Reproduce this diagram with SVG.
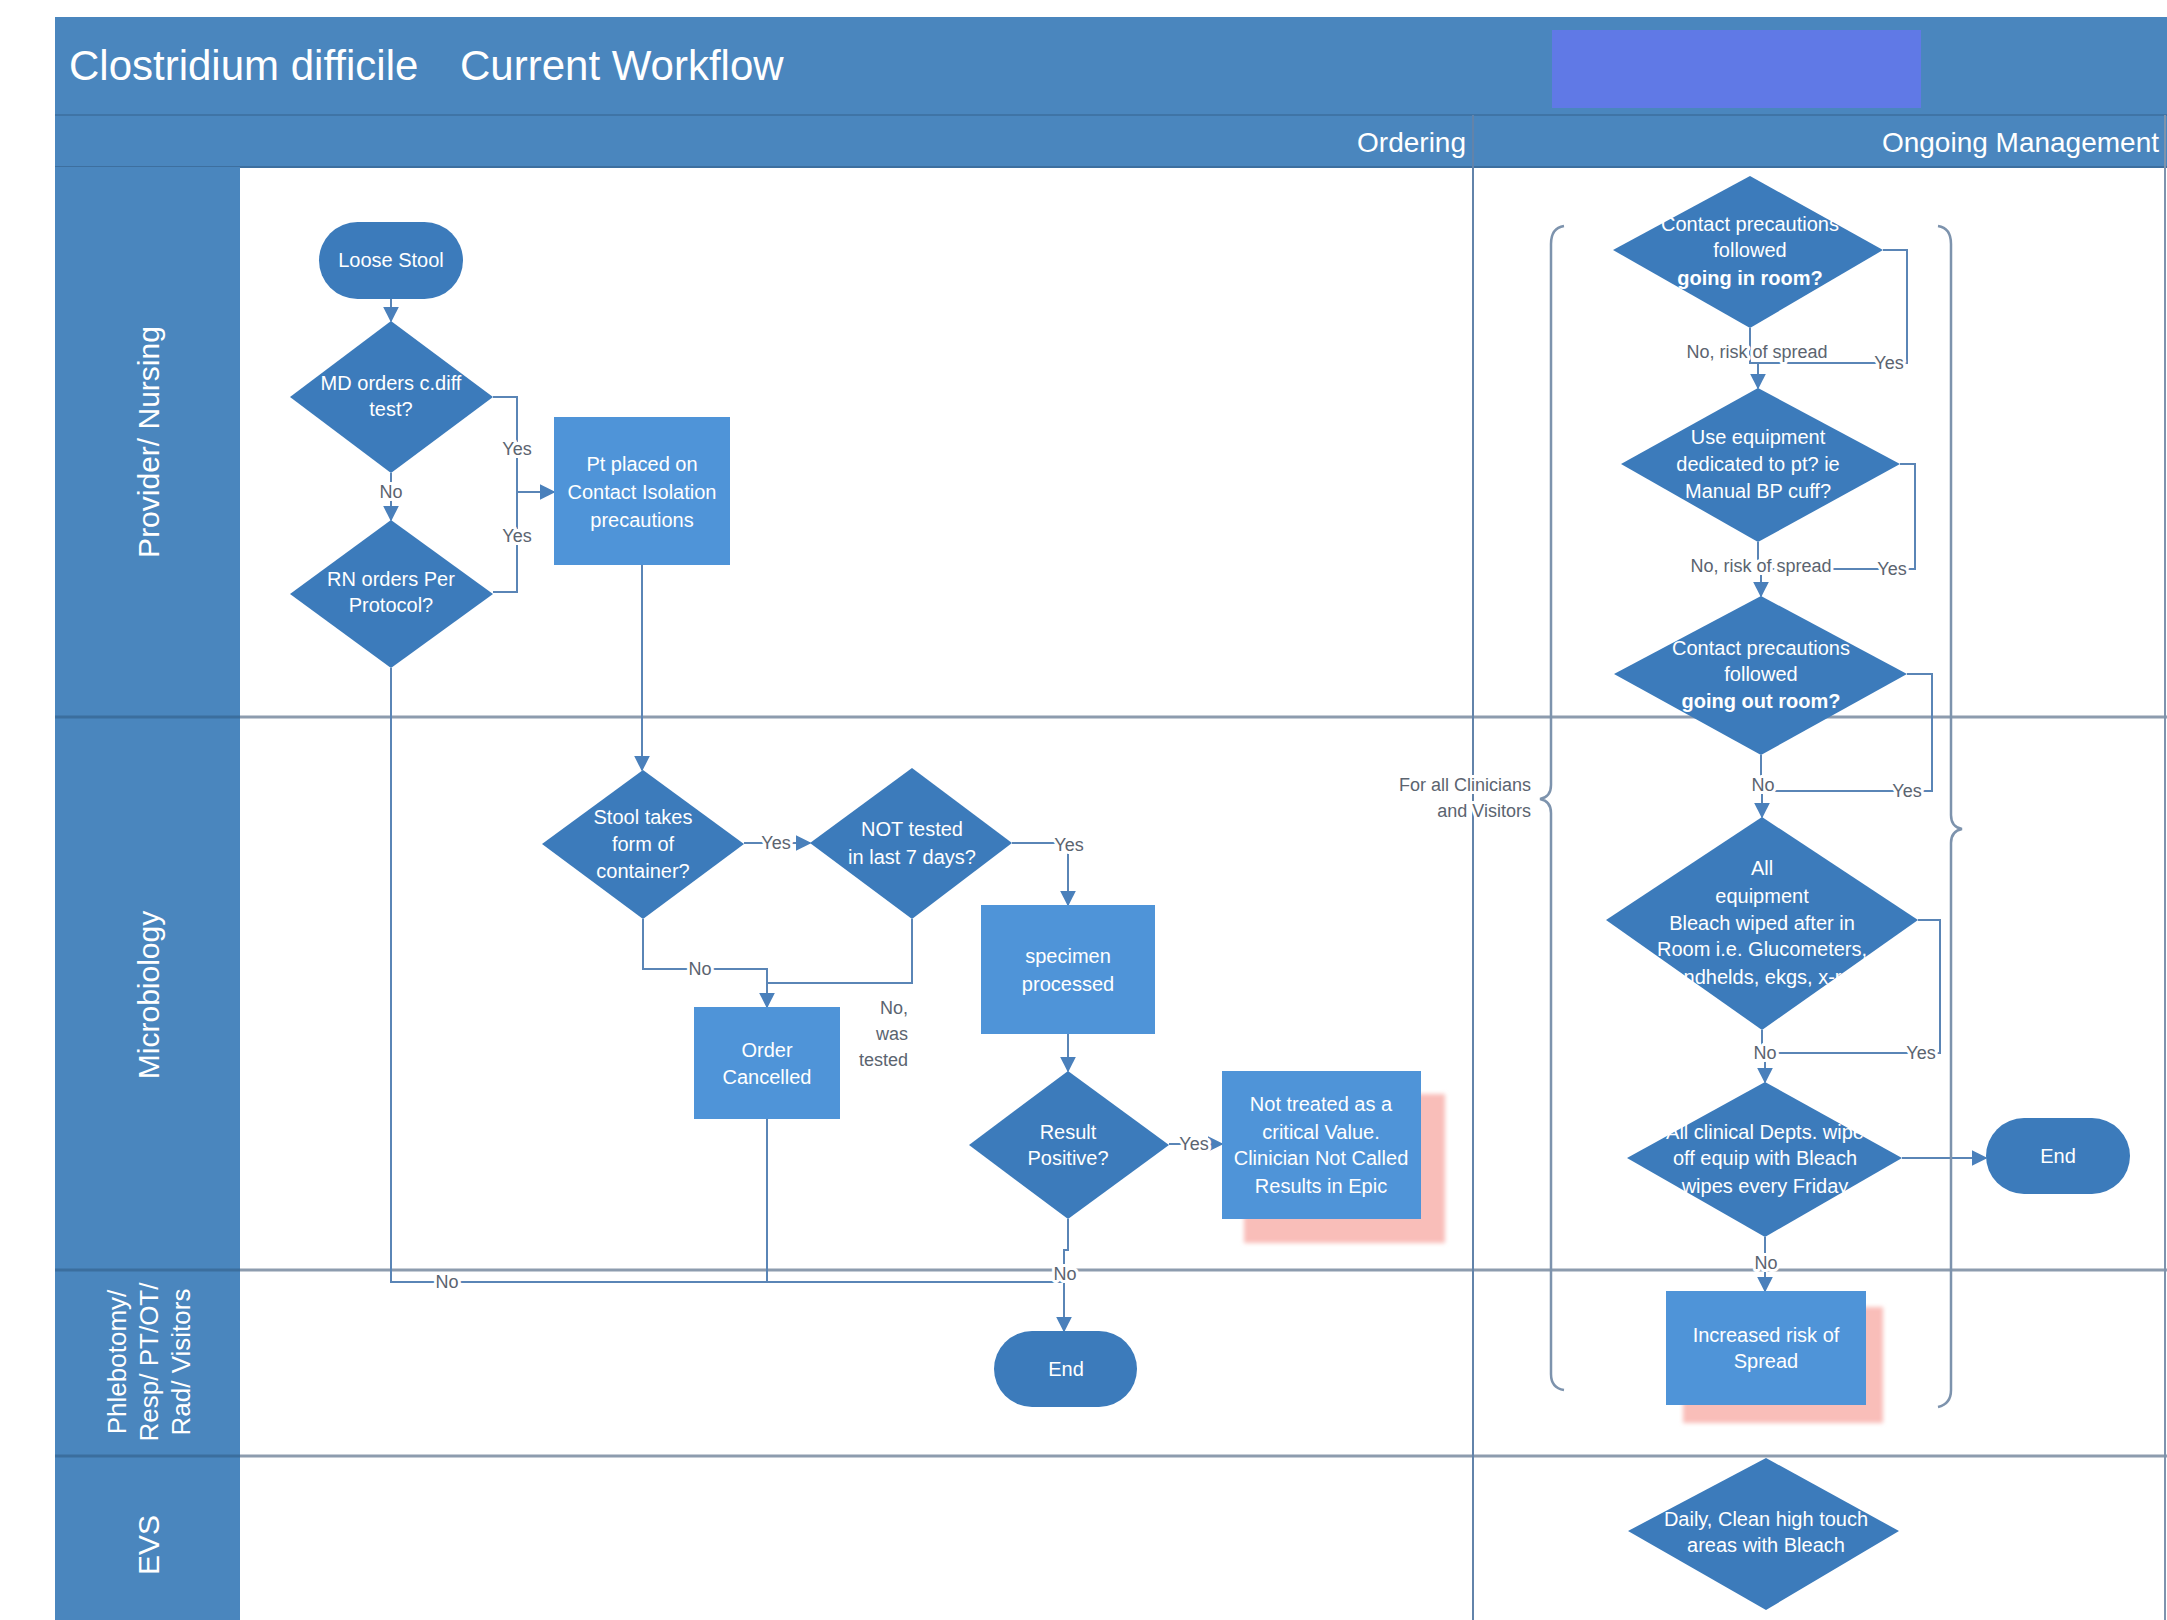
<svg xmlns="http://www.w3.org/2000/svg" width="2167" height="1620" viewBox="0 0 2167 1620">
<defs>
<style>
.band{fill:#4a86be}
.lane{stroke:#8d9cae;stroke-width:3;fill:none}
.lanecol{stroke:#3b6e9e;stroke-width:3}
.hdr{font-family:"Liberation Sans",Arial,sans-serif;fill:#ffffff}
.lbl{font-family:"Liberation Sans",Arial,sans-serif;fill:#ffffff;font-size:30px;text-anchor:middle}
.lbls{font-size:26px}
.dia{fill:#3c7bbb}
.box{fill:#4f94d8}
.term{fill:#3c7bbb}
.shadow{fill:#f9beb9;filter:url(#blur)}
.nt{font-family:"Liberation Sans",Arial,sans-serif;fill:#ffffff;font-size:20px;text-anchor:middle}
.b{font-weight:bold}
.con{stroke:#5a85b6;stroke-width:2;fill:none}
.conm{stroke:#5a85b6;stroke-width:2;fill:none;marker-end:url(#arr)}
.cl{font-family:"Liberation Sans",Arial,sans-serif;fill:#5b6470;font-size:18px;text-anchor:middle;stroke:#ffffff;stroke-width:6px;paint-order:stroke;stroke-linejoin:round}
.cl.end{text-anchor:end}
.brk{stroke:#7d93ad;stroke-width:2.5;fill:none}
</style>
<filter id="blur" x="-10%" y="-10%" width="120%" height="120%"><feGaussianBlur stdDeviation="2"/></filter>
<marker id="arr" viewBox="0 0 10 10" refX="9" refY="5" markerWidth="8" markerHeight="8" markerUnits="strokeWidth" orient="auto"><path d="M0,0 L10,5 L0,10 z" fill="#4a80bb"/></marker>
</defs>
<rect x="0" y="0" width="2167" height="1620" fill="#ffffff"/>

<g id="frame">
<rect class="band" x="55" y="17" width="2112" height="98"/>
<rect class="band" x="55" y="115" width="2112" height="52"/>
<line x1="55" y1="115" x2="2167" y2="115" stroke="#3f74a6" stroke-width="2"/>
<line x1="55" y1="167" x2="2167" y2="167" stroke="#3d6f9f" stroke-width="2"/>
<rect class="band" x="55" y="167" width="185" height="1453"/>
<rect x="1552" y="30" width="369" height="78" fill="#6079e6"/>
<text class="hdr" x="69" y="80" font-size="42">Clostridium difficile</text>
<text class="hdr" x="460" y="80" font-size="42">Current Workflow</text>
<text class="hdr" x="1466" y="152" font-size="28" text-anchor="end">Ordering</text>
<text class="hdr" x="2159" y="152" font-size="28" text-anchor="end">Ongoing Management</text>
<line class="lane" x1="240" y1="717" x2="2167" y2="717"/>
<line class="lane" x1="240" y1="1270" x2="2167" y2="1270"/>
<line class="lane" x1="240" y1="1456" x2="2167" y2="1456"/>
<line class="lanecol" x1="55" y1="717" x2="240" y2="717"/>
<line class="lanecol" x1="55" y1="1270" x2="240" y2="1270"/>
<line class="lanecol" x1="55" y1="1456" x2="240" y2="1456"/>
<line x1="1473" y1="115" x2="1473" y2="1620" stroke="#6283aa" stroke-width="2"/>
<line x1="2165" y1="115" x2="2165" y2="1620" stroke="#7d93ad" stroke-width="2"/>
<text class="lbl" transform="translate(159,442) rotate(-90)">Provider/ Nursing</text>
<text class="lbl" transform="translate(159,995) rotate(-90)">Microbiology</text>
<text class="lbl lbls" transform="translate(126,1362) rotate(-90)">Phlebotomy/</text>
<text class="lbl lbls" transform="translate(158,1362) rotate(-90)">Resp/ PT/OT/</text>
<text class="lbl lbls" transform="translate(190,1362) rotate(-90)">Rad/ Visitors</text>
<text class="lbl" transform="translate(159,1545) rotate(-90)">EVS</text>
</g>

<g id="connectors">
<path class="conm" d="M391,299 V321"/>
<path class="con" d="M493,397 H517 V592 H493"/>
<path class="conm" d="M517,492 H554"/>
<path class="conm" d="M391,473 V520"/>
<path class="con" d="M391,668 V1282 H1064"/>
<path class="conm" d="M642,565 V770"/>
<path class="conm" d="M744,843 H810"/>
<path class="conm" d="M643,919 V969 H767 V1007"/>
<path class="con" d="M912,919 V983 H767"/>
<path class="conm" d="M1012,843 H1068 V905"/>
<path class="conm" d="M1068,1034 V1071"/>
<path class="conm" d="M1169,1144 H1222"/>
<path class="con" d="M767,1119 V1282"/>
<path class="conm" d="M1068,1219 V1250 H1064 V1331"/>
<path class="conm" d="M1750,328 V363 H1758 V388"/>
<path class="con" d="M1883,250 H1907 V363 H1758"/>
<path class="conm" d="M1758,542 V569 H1761 V596"/>
<path class="con" d="M1900,464 H1915 V569 H1761"/>
<path class="conm" d="M1761,755 V791 H1762 V817"/>
<path class="con" d="M1907,674 H1932 V791 H1762"/>
<path class="conm" d="M1762,1030 V1053 H1765 V1082"/>
<path class="con" d="M1918,920 H1940 V1053 H1765"/>
<path class="conm" d="M1902,1158 H1986"/>
<path class="conm" d="M1765,1237 V1291"/>
<path class="brk" d="M1564,226 Q1551,228 1551,244 V785 Q1551,797 1540,799 Q1551,801 1551,813 V1374 Q1551,1388 1564,1390"/>
<path class="brk" d="M1938,226 Q1951,228 1951,244 V815 Q1951,827 1962,829 Q1951,831 1951,843 V1390 Q1951,1404 1938,1407"/>
<text class="cl" x="517" y="455">Yes</text>
<text class="cl" x="517" y="542">Yes</text>
<text class="cl" x="391" y="498">No</text>
<text class="cl" x="447" y="1288">No</text>
<text class="cl" x="776" y="849">Yes</text>
<text class="cl" x="700" y="975">No</text>
<text class="cl end" x="908" y="1014">No,</text>
<text class="cl end" x="908" y="1040">was</text>
<text class="cl end" x="908" y="1066">tested</text>
<text class="cl" x="1069" y="851">Yes</text>
<text class="cl" x="1194" y="1150">Yes</text>
<text class="cl" x="1065" y="1280">No</text>
<text class="cl" x="1757" y="358">No, risk of spread</text>
<text class="cl" x="1889" y="369">Yes</text>
<text class="cl" x="1761" y="572">No, risk of spread</text>
<text class="cl" x="1892" y="575">Yes</text>
<text class="cl" x="1763" y="791">No</text>
<text class="cl" x="1907" y="797">Yes</text>
<text class="cl" x="1765" y="1059">No</text>
<text class="cl" x="1921" y="1059">Yes</text>
<text class="cl" x="1766" y="1269">No</text>
<text class="cl end" x="1531" y="791">For all Clinicians</text>
<text class="cl end" x="1531" y="817">and Visitors</text>
</g>

<g id="loose-stool">
<rect class="term" x="319" y="222" width="144" height="77" rx="38.5"/>
<text class="nt" x="391" y="267">Loose Stool</text>
</g>
<g id="md-orders">
<polygon class="dia" points="391,321 493,397 391,473 290,397"/>
<text class="nt" x="391" y="390">MD orders c.diff</text>
<text class="nt" x="391" y="416">test?</text>
</g>
<g id="rn-orders">
<polygon class="dia" points="391,520 493,594 391,668 290,594"/>
<text class="nt" x="391" y="586">RN orders Per</text>
<text class="nt" x="391" y="612">Protocol?</text>
</g>
<g id="pt-placed">
<rect class="box" x="554" y="417" width="176" height="148"/>
<text class="nt" x="642" y="471">Pt placed on</text>
<text class="nt" x="642" y="499">Contact Isolation</text>
<text class="nt" x="642" y="527">precautions</text>
</g>
<g id="stool-form">
<polygon class="dia" points="643,770 744,844 643,919 542,844"/>
<text class="nt" x="643" y="824">Stool takes</text>
<text class="nt" x="643" y="851">form of</text>
<text class="nt" x="643" y="878">container?</text>
</g>
<g id="not-tested">
<polygon class="dia" points="912,768 1012,843 912,919 810,843"/>
<text class="nt" x="912" y="836">NOT tested</text>
<text class="nt" x="912" y="864">in last 7 days?</text>
</g>
<g id="specimen">
<rect class="box" x="981" y="905" width="174" height="129"/>
<text class="nt" x="1068" y="963">specimen</text>
<text class="nt" x="1068" y="991">processed</text>
</g>
<g id="order-cancelled">
<rect class="box" x="694" y="1007" width="146" height="112"/>
<text class="nt" x="767" y="1057">Order</text>
<text class="nt" x="767" y="1084">Cancelled</text>
</g>
<g id="result-positive">
<polygon class="dia" points="1068,1071 1169,1145 1068,1219 969,1145"/>
<text class="nt" x="1068" y="1139">Result</text>
<text class="nt" x="1068" y="1165">Positive?</text>
</g>
<g id="not-treated">
<rect class="shadow" x="1244" y="1094" width="201" height="149"/>
<rect class="box" x="1222" y="1071" width="199" height="148"/>
<text class="nt" x="1321" y="1111">Not treated as a</text>
<text class="nt" x="1321" y="1139">critical Value.</text>
<text class="nt" x="1321" y="1165">Clinician Not Called</text>
<text class="nt" x="1321" y="1193">Results in Epic</text>
</g>
<g id="end-mid">
<rect class="term" x="994" y="1331" width="143" height="76" rx="38"/>
<text class="nt" x="1066" y="1376">End</text>
</g>
<g id="cp-in">
<polygon class="dia" points="1750,176 1883,250 1750,328 1613,250"/>
<text class="nt" x="1750" y="231">Contact precautions</text>
<text class="nt" x="1750" y="257">followed</text>
<text class="nt b" x="1750" y="285">going in room?</text>
</g>
<g id="use-equipment">
<polygon class="dia" points="1758,388 1900,464 1758,542 1621,464"/>
<text class="nt" x="1758" y="444">Use equipment</text>
<text class="nt" x="1758" y="471">dedicated to pt? ie</text>
<text class="nt" x="1758" y="498">Manual BP cuff?</text>
</g>
<g id="cp-out">
<polygon class="dia" points="1761,596 1907,674 1761,755 1614,674"/>
<text class="nt" x="1761" y="655">Contact precautions</text>
<text class="nt" x="1761" y="681">followed</text>
<text class="nt b" x="1761" y="708">going out room?</text>
</g>
<g id="all-equipment">
<polygon class="dia" points="1762,817 1918,920 1762,1030 1606,920"/>
<text class="nt" x="1762" y="875">All</text>
<text class="nt" x="1762" y="903">equipment</text>
<text class="nt" x="1762" y="930">Bleach wiped after in</text>
<text class="nt" x="1762" y="956">Room i.e. Glucometers,</text>
<text class="nt" x="1762" y="984">handhelds, ekgs, x-ray</text>
</g>
<g id="clinical-depts">
<polygon class="dia" points="1765,1082 1902,1158 1765,1237 1627,1158"/>
<text class="nt" x="1765" y="1139">All clinical Depts. wipe</text>
<text class="nt" x="1765" y="1165">off equip with Bleach</text>
<text class="nt" x="1765" y="1193">wipes every Friday</text>
</g>
<g id="end-right">
<rect class="term" x="1986" y="1118" width="144" height="76" rx="38"/>
<text class="nt" x="2058" y="1163">End</text>
</g>
<g id="increased-risk">
<rect class="shadow" x="1683" y="1307" width="200" height="116"/>
<rect class="box" x="1666" y="1291" width="200" height="114"/>
<text class="nt" x="1766" y="1342">Increased risk of</text>
<text class="nt" x="1766" y="1368">Spread</text>
</g>
<g id="daily-clean">
<polygon class="dia" points="1766,1458 1899,1531 1766,1610 1628,1531"/>
<text class="nt" x="1766" y="1526">Daily, Clean high touch</text>
<text class="nt" x="1766" y="1552">areas with Bleach</text>
</g>
</svg>
